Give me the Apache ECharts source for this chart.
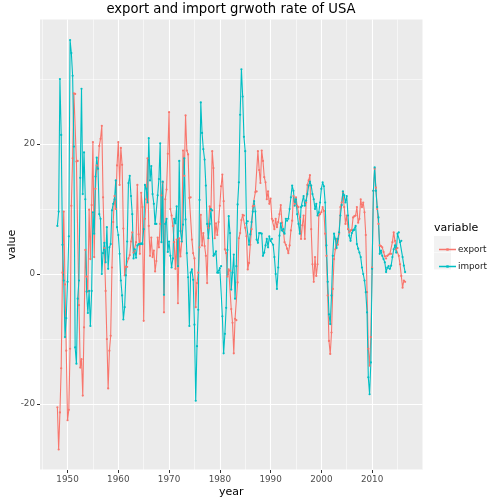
<!DOCTYPE html>
<html>
<head>
<meta charset="utf-8">
<script src="https://cdn.jsdelivr.net/npm/echarts@6/dist/echarts.min.js"></script>
<style>
  html, body { margin: 0; padding: 0; background: #fff; }
  #chart { width: 504px; height: 504px; }
</style>
</head>
<body>
<div id="chart"></div>
<script>
// quarterly growth rates (%), first quarter is 1948.0
const START_YEAR = 1948;

const exportRate = [
  -20.5, -27, -21.3, -14.5, 0.2, 9.6, -1.6, -11.8, -22.5, -20.9, -11.5, 10.5, 17.8, 27.8, 27.7, 17.3, 17.4, -4.8, -14.4, -13.1, -18.7, -8.2, 3.7, -0.4, -2.7, 9.9, 2.3,
  10.6, 20.3, 2.6, 13.1, 16.7, 16.1, 19.7, 20.8, 22.8, 11.8, 4, -2.6, -10, -17.6, -11.8, -9.5, 1, 8, 12, 10, 16.7, 20.3, 13.7, 19.4, 16.8, 7, -0.2, 1.1, 1.1, 2.4, 2.9, 5,
  6.4, 3.3, 3.6, 4.9, 13.7, 6.1, 3.1, 12.5, 10.3, -7.2, 8.5, 11.5, 17.8, 7.4, 2.8, 5.6, 2.6, 3.6, 0.4, 2, 5.6, 4.1, 7.7, 12.1, 14.1, -5.9, 11.5, 13, 18.5, 24.9, 10, 9, 7.4, 4.9,
  0.8, 5.3, -4.5, 5.5, 2.7, 5, 19, 15.1, 24.4, 19, 18.4, 11.7, 11.8, 5.3, 3.2, 2.4, -5.1, -1.4, 0.2, 4.1, 9.1, 4.4, 6.3, 4.3, 2.8, -1.4, 7.1, 10.4, 9.8, 18.9, 16.3, 5.5, 7.8, 6,
  8, 10.5, 13.5, 15.3, 11.2, 3.8, 3.2, -0.4, 0.7, 0.5, -5.4, -7.5, -12.2, -6.9, -7.1, -1.3, 5.5, 6.3, 8.3, 9.1, 9, 7.1, 5.8, 0.7, 1.7, 4.5, 6.9, 10.4, 10.5, 12.6, 12.7, 18.9, 16, 14,
  19, 17.4, 14.9, 14.1, 11.5, 12.7, 10.8, 11.6, 8.5, 8.2, 6.9, 8.5, 7.2, 8, 9.2, 10.6, 7.9, 6.8, 4.9, 4.5, 3.9, 3.2, 4.4, 6.7, 8.2, 12, 10.8, 11.8, 10.5, 10.3, 8.5, 5.4, 7.5, 9,
  5.4, 11, 13.7, 14.4, 15.2, 6.9, 1.5, -1.2, 2.6, -0.3, 1.5, 9, 9.2, 9.5, 10.3, 9.7, 6.2, 2.8, -3.3, -10.3, -12.3, -9, -2.3, 2.3, 3.8, 5.4, 4.5, 6.2, 10.3, 11, 12.6, 10.3, 7.7, 9,
  6.9, 6.4, 6.7, 6.8, 8.7, 8.9, 9, 10.3, 7.9, 8.5, 11.5, 10.3, 11, 9.5, 6, -2.8, -11.5, -14.1, -9.7, 1, 12.8, 16.2, 13.3, 10, 7.7, 4.4, 4.3, 4.1, 3.4, 2.7, 2.4, 2.8, 3, 3.1,
  3.1, 4.9, 6.4, 5.1, 3.8, 4, 2.8, 1.5, -0.3, -2.1, -1, -1.2
];

const importRate = [
  7.4, 9.6, 30, 21.4, 4.5, -1, -9.7, -6.8, -1.2, 5.8, 36, 34, 30.5, 19.6, -11.3, -13.8, -3.8, -1, 14.8, 28.5, 12.3, 18.7, 11.5, -2.7, -6, -2.6, -8,
  -2.6, 9.5, 6.2, 15, 17.9, 16.2, 9.2, 8.5, 0, 3.2, 4.8, 1.8, 7.2, 0.8, 4.1, 4.6, 9.8, 10.8, 11.5, 14.4, 7.2, 6, 3.1, -1, -3.3, -7, -5.1, -0.2, 5, 14, 15.1, 12,
  9.2, 2.4, 3.8, 2.5, 4.4, 4.6, 4.6, 4.7, 4.6, 6.9, 13.7, 13.1, 11, 20.9, 14.4, 16.6, 12.3, 10.8, 7.7, 7.7, 12.1, 14.6, 20.1, 4.9, 14.2, -3.2, 7.7, 8.5, 3.4, 5, 2.8, 1, 2.4, 8.5,
  7.8, 10.4, 1.2, 17.4, 6.6, 5, 7.6, 17.8, 8.4, 3.2, -0.5, -8, 0.2, 0.7, -0.9, -7.8, -19.5, -11.1, -5.5, 11.4, 26.4, 21.7, 19.2, 17.6, 13.6, 7.7, 5.5, 7.7, 10, 9.8, 2.8, 3, 3.5, 0.2,
  0.2, 0.9, 1.2, -6.5, -12.2, -9.2, -5.2, 3.7, 8.9, 6.3, -2.4, 0.2, 3, -3.8, 1.2, 10.7, 14.1, 24.5, 31.5, 27.3, 21.1, 18.9, 7.8, 8.1, 4.5, 6.1, 8, 9.6, 11.2, 9.6, 5.3, 4.8, 6.3, 6.3,
  6.2, 2.8, 3.3, 4.4, 5.4, 4.1, 5.8, 5.1, 5.4, 4.5, 2.6, 0, -2.3, 1, 5.9, 7.8, 6.7, 6.9, 6.2, 8.5, 8.2, 8.5, 10, 11.8, 13.6, 12.8, 10.5, 11.5, 9.2, 7.7, 6.2, 10.3, 10.5, 12,
  10.5, 11.3, 12.3, 13.6, 14.2, 13.6, 12.3, 11.5, 10, 10.8, 9, 9.5, 11, 13.1, 14.1, 13.5, 11, 4.4, -1.2, -6.2, -7.7, -3.3, 2.8, 6.2, 5.4, 4, 5.4, 6.4, 9, 10.6, 12.7, 12.1, 11, 12,
  9, 5.9, 5.1, 6.3, 6.7, 6.8, 7.4, 4.6, 3.9, 3.3, 2.6, 1, 0, -1, -2.8, -5.9, -15.9, -18.5, -13.6, 0.8, 12.8, 16.4, 12.8, 10.3, 8.7, 3.1, 3.6, 2.8, 2.3, 1.8, 0.3, 1, 1.2, 0.8,
  1.3, 2.6, 3.8, 4.4, 3.3, 6.2, 6.4, 4.9, 5.1, 2.6, 1.3, 0.3
];

const seriesNames = ['export', 'import'];
const seriesColors = ['#F8766D', '#00BFC4'];

const xMajor = [1950, 1960, 1970, 1980, 1990, 2000, 2010];
const xMinor = [1945, 1955, 1965, 1975, 1985, 1995, 2005, 2015];
const yMajor = [-20, 0, 20];
const yMinor = [-30, -10, 10, 30];

// ggplot style 5% padding
const X_MIN = 1944.575, X_MAX = 2019.925;
const Y_MIN = -30.15, Y_MAX = 39.15;

const toPoints = arr => arr.map((v, i) => [START_YEAR + i / 4, v]);

const chart = echarts.init(document.getElementById('chart'));
const FONT = 'DejaVu Sans';

const tickStyle = { color: '#333333', width: 1 };

const option = {
  animation: false,
  textStyle: { fontFamily: FONT },
  grid: {
    left: 40, top: 19.5, width: 382.5, height: 450.5,
    outerBoundsMode: 'none', containLabel: false,
    show: true, backgroundColor: '#EBEBEB', borderWidth: 0
  },
  xAxis: [
    {
      type: 'value', min: X_MIN, max: X_MAX,
      name: 'year', nameLocation: 'middle', nameGap: 17, nameMoveOverlap: false,
      nameTextStyle: { fontSize: 11, color: '#000', fontFamily: FONT },
      axisLine: { show: false, onZero: false },
      axisTick: { show: true, length: 3, lineStyle: tickStyle, customValues: xMajor },
      axisLabel: { customValues: xMajor, fontSize: 8.8, color: '#4D4D4D', margin: 5, fontFamily: FONT, formatter: v => String(v) },
      splitLine: { show: true, lineStyle: { color: '#fff', width: 1.1 } }
    },
    {
      type: 'value', min: X_MIN, max: X_MAX, position: 'bottom',
      axisLine: { show: false, onZero: false },
      axisTick: { show: false, customValues: xMinor },
      axisLabel: { show: false },
      splitLine: { show: true, lineStyle: { color: '#fff', width: 0.55 } }
    }
  ],
  yAxis: [
    {
      type: 'value', min: Y_MIN, max: Y_MAX,
      name: 'value', nameLocation: 'middle', nameGap: 22, nameMoveOverlap: false,
      nameTextStyle: { fontSize: 11, color: '#000', fontFamily: FONT },
      axisLine: { show: false, onZero: false },
      axisTick: { show: true, length: 3, lineStyle: tickStyle, customValues: yMajor },
      axisLabel: { customValues: yMajor, fontSize: 8.8, color: '#4D4D4D', margin: 5, fontFamily: FONT },
      splitLine: { show: true, lineStyle: { color: '#fff', width: 1.1 } }
    },
    {
      type: 'value', min: Y_MIN, max: Y_MAX, position: 'left',
      axisLine: { show: false, onZero: false },
      axisTick: { show: false, customValues: yMinor },
      axisLabel: { show: false },
      splitLine: { show: true, lineStyle: { color: '#fff', width: 0.55 } }
    }
  ],
  legend: {
    data: seriesNames,
    orient: 'vertical',
    left: 434, top: 236,
    itemWidth: 17, itemHeight: 17, itemGap: 0,
    icon: 'path://M0,7.2h17v1.4h-17z M7.3,6.7h2.4v2.4h-2.4z',
    textStyle: { fontSize: 8.8, lineHeight: 17, color: '#1A1A1A', fontFamily: FONT, padding: [0, 0, 0, -3] },
    selectedMode: false
  },
  graphic: [
    { type: 'rect', shape: { x: 434, y: 236, width: 17, height: 16.5 }, style: { fill: '#F2F2F2' }, z: -1 },
    { type: 'rect', shape: { x: 434, y: 253, width: 17, height: 16.5 }, style: { fill: '#F2F2F2' }, z: -1 },
    { type: 'text', x: 434, y: 228, style: { text: 'variable', fontSize: 11, fill: '#000', fontFamily: FONT, verticalAlign: 'middle' } },
    { type: 'text', x: 231, y: 10, style: { text: 'export and import grwoth rate of USA', fontSize: 13.2, fill: '#000', fontFamily: FONT, align: 'center', verticalAlign: 'middle' } }
  ],
  series: [exportRate, importRate].map((arr, k) => ({
    name: seriesNames[k],
    type: 'line',
    xAxisIndex: 0, yAxisIndex: 0,
    data: toPoints(arr),
    symbol: 'circle', symbolSize: 2.2, showSymbol: true,
    lineStyle: { color: seriesColors[k], width: 1.1 },
    itemStyle: { color: seriesColors[k] },
    emphasis: { disabled: true }
  }))
};

chart.setOption(option);
</script>
</body>
</html>
